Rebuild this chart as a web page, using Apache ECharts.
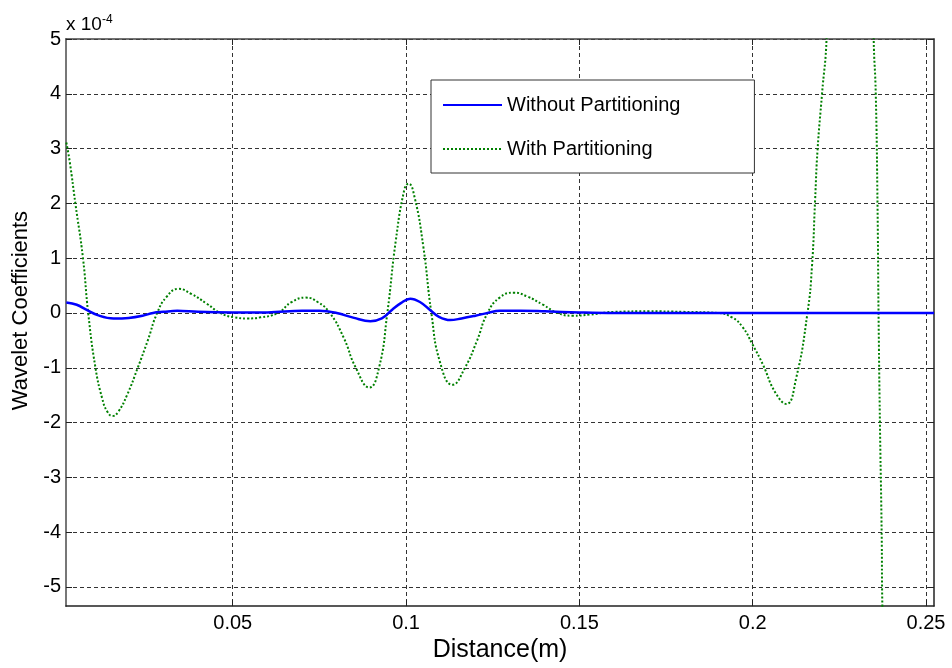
<!DOCTYPE html>
<html>
<head>
<meta charset="utf-8">
<script src="https://cdn.jsdelivr.net/npm/echarts@6/dist/echarts.min.js"></script>
<style>
html,body{margin:0;padding:0;background:#fff;}
#chart{width:952px;height:668px;}
</style>
</head>
<body>
<div id="chart"></div>
<script>
// 数据 (单位 x 10^-4)
var withX = [0.002,0.003,0.0046,0.0068,0.0083,0.0104,0.0123,0.0138,0.0153,0.017,0.0195,0.0226,0.0255,0.0282,0.031,0.0343,0.038,0.0425,0.0464,0.0505,0.0542,0.058,0.063,0.067,0.071,0.0745,0.078,0.082,0.0855,0.0894,0.0922,0.0946,0.097,0.0995,0.1007,0.1025,0.105,0.1073,0.1098,0.1134,0.117,0.1205,0.1235,0.127,0.131,0.135,0.1395,0.1437,0.148,0.153,0.16,0.17,0.18,0.19,0.194,0.197,0.2,0.203,0.2065,0.2097,0.2125,0.2158,0.2171,0.218,0.2187,0.22,0.2213,0.225,0.229,0.233,0.2349,0.2355,0.236,0.2363,0.2367,0.2372,0.2374,0.24,0.245,0.2523];
var withY = [3.11,2.75,2.0,1.0,0.0,-1.0,-1.55,-1.8,-1.88,-1.8,-1.5,-1.0,-0.5,0.0,0.3,0.44,0.35,0.17,0.0,-0.08,-0.1,-0.08,0.0,0.2,0.28,0.2,0.0,-0.45,-1.0,-1.36,-1.0,0.0,1.3,2.25,2.36,2.1,1.2,0.0,-0.9,-1.31,-1.0,-0.5,0.0,0.28,0.37,0.3,0.15,0.0,-0.05,-0.03,0.02,0.03,0.02,0.0,-0.08,-0.25,-0.58,-0.95,-1.45,-1.66,-1.2,0.0,0.85,2.06,2.97,4.0,5.0,12,18,12,5.0,4.0,2.0,0.0,-2.0,-4.0,-5.35,-14,-25,-35];
var withoutX = [0.002,0.005,0.008,0.011,0.0156,0.02,0.024,0.027,0.03,0.034,0.04,0.05,0.06,0.07,0.075,0.08,0.085,0.0897,0.093,0.096,0.0985,0.1012,0.104,0.107,0.1095,0.1127,0.116,0.12,0.1235,0.127,0.133,0.14,0.15,0.16,0.2523];
var withoutY = [0.19,0.15,0.05,-0.04,-0.1,-0.09,-0.05,0.0,0.02,0.04,0.02,0.01,0.01,0.04,0.04,0.0,-0.09,-0.15,-0.1,0.06,0.18,0.26,0.2,0.05,-0.07,-0.13,-0.1,-0.05,0.0,0.04,0.04,0.03,0.01,0.0,0.0];
var xTicks = [0.05,0.1,0.15,0.2,0.25];
var yTicks = [-5,-4,-3,-2,-1,0,1,2,3,4,5];
var seriesNames = ['Without Partitioning','With Partitioning'];

var fontName = 'Liberation Sans, Arial, sans-serif';

function toPairs(xs, ys){
    var out = [];
    for(var i = 0; i < xs.length; i++){
        out.push([xs[i], ys[i]]);
    }
    return out;
}

var chart = echarts.init(document.getElementById('chart'), null, {renderer:'canvas'});

var gridLine = {show:true, lineStyle:{color:'#333', type:[4,3], width:1}};

var option = {
    backgroundColor:'#fff',
    animation:false,
    textStyle:{fontFamily:fontName},
    grid:{left:66, right:18, top:39, bottom:61},
    legend:{
        left:431, top:80,
        orient:'vertical',
        data:seriesNames,
        itemWidth:59, itemHeight:20, itemGap:24,
        padding:[15,74,14,11],
        backgroundColor:'#fff',
        borderColor:'#333', borderWidth:1, borderRadius:0,
        itemStyle:{opacity:0},
        textStyle:{fontSize:20, color:'#000', fontFamily:fontName}
    },
    graphic:[{
        type:'text', left:66, top:14,
        style:{
            text:'{a|x 10}{b|-4}',
            rich:{
                a:{fontSize:19, fontFamily:fontName, fill:'#000'},
                b:{fontSize:12, fontFamily:fontName, fill:'#000', verticalAlign:'top', padding:[0,0,10,0]}
            }
        }
    }],
    xAxis:[{
        type:'value', min:0.0019, max:0.2523,
        name:'Distance(m)', nameLocation:'middle', nameGap:30,
        nameTextStyle:{fontSize:25, color:'#000', fontFamily:fontName},
        axisLine:{show:true, onZero:false, lineStyle:{color:'#222', width:1.5}},
        axisTick:{show:true, inside:true, length:6, customValues:xTicks, lineStyle:{color:'#222'}},
        axisLabel:{customValues:xTicks, fontSize:20, color:'#000', margin:7, formatter:function(v){return String(+v.toFixed(2));}},
        splitLine:gridLine
    },{
        type:'value', position:'top', min:0.0019, max:0.2523,
        axisLine:{show:true, onZero:false, lineStyle:{color:'#444', width:1.5}},
        axisTick:{show:true, inside:true, length:6, customValues:xTicks, lineStyle:{color:'#222'}},
        axisLabel:{show:false},
        splitLine:{show:false}
    }],
    yAxis:[{
        type:'value', min:-5.35, max:5,
        name:'Wavelet Coefficients', nameLocation:'middle', nameGap:31,
        nameTextStyle:{fontSize:22, color:'#000', fontFamily:fontName, padding:[0,0,0,24]},
        axisLine:{show:true, onZero:false, lineStyle:{color:'#777', width:2}},
        axisTick:{show:true, inside:true, length:6, customValues:yTicks, lineStyle:{color:'#222'}},
        axisLabel:{customValues:yTicks, fontSize:20, color:'#000', margin:5},
        splitLine:gridLine
    },{
        type:'value', position:'right', min:-5.35, max:5,
        axisLine:{show:true, onZero:false, lineStyle:{color:'#222', width:1.5}},
        axisTick:{show:true, inside:true, length:6, customValues:yTicks, lineStyle:{color:'#222'}},
        axisLabel:{show:false},
        splitLine:{show:false}
    }],
    series:[{
        name:seriesNames[0], type:'line',
        data:toPairs(withoutX, withoutY),
        symbol:'none', smooth:0.4, clip:true, z:3,
        lineStyle:{color:'#0000ff', width:2.5, type:'solid'},
        itemStyle:{color:'#0000ff'}
    },{
        name:seriesNames[1], type:'line',
        data:toPairs(withX, withY),
        symbol:'none', smooth:0.5, clip:true, z:2,
        lineStyle:{color:'#008000', width:2, type:'dotted'},
        itemStyle:{color:'#008000'}
    }]
};

chart.setOption(option);
</script>
</body>
</html>
